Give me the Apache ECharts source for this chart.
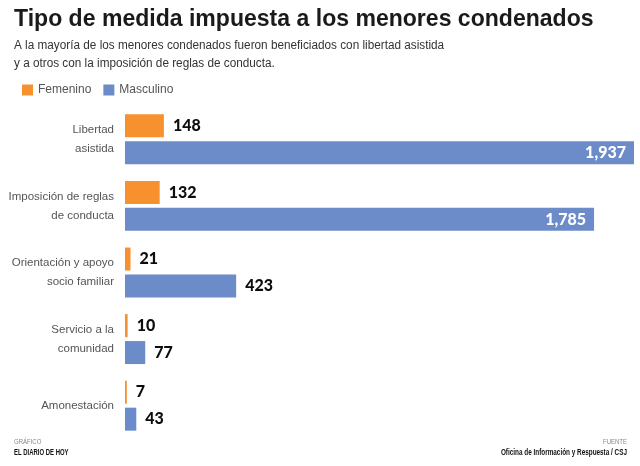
<html>
    <head>
        <meta charset="utf-8">
        <script src="https://cdn.jsdelivr.net/npm/echarts@6/dist/echarts.min.js"></script>
    </head>
    <body style="margin:0;background:#fff;">
        <div id="chart" style="height: 466px; width: 640px;"></div>
    </body>
    <script type="text/javascript">
        // datos
        var categorias = ['Libertad\nasistida', 'Imposición de reglas\nde conducta', 'Orientación y apoyo\nsocio familiar', 'Servicio a la\ncomunidad', 'Amonestación'];
        var femenino = [148, 132, 21, 10, 7];
        var masculino = [1937, 1785, 423, 77, 43];

        var naranja = '#F7912F';
        var azul = '#6B8CC8';
        var fuente = '"Liberation Sans", Arial, sans-serif';

        function fmt(v) {
            return v.toLocaleString('en-US');
        }

        // barras largas llevan la etiqueta dentro
        function puntos(arr) {
            return arr.map(function (v) {
                if (v > 1000) {
                    return {
                        value: v,
                        label: { position: 'insideRight', color: '#fff', distance: 8 }
                    };
                }
                return v;
            });
        }

        var myChart = echarts.init(document.getElementById('chart'));

        var etiqueta = {
            show: true, position: 'right', distance: 9,
            fontSize: 16, fontWeight: 900, color: '#0d0d0d', fontFamily: 'Lato, sans-serif',
            formatter: function (p) { return fmt(p.value); }
        };

        var options = {
            animation: false,
            legend: {
                left: 22,
                top: 84,
                padding: 0,
                icon: 'rect',
                itemWidth: 11,
                itemHeight: 11,
                itemGap: 12,
                textStyle: { fontSize: 12, color: '#555', fontFamily: fuente }
            },
            grid: { left: 125, right: 6, top: 106, bottom: 27, containLabel: false, outerBoundsMode: 'none' },
            xAxis: {
                type: 'value',
                min: 0,
                max: 1937,
                show: false,
                splitLine: { show: false }
            },
            yAxis: {
                type: 'category',
                inverse: true,
                data: categorias,
                axisLine: { show: false },
                axisTick: { show: false },
                axisLabel: {
                    margin: 11,
                    fontSize: 11.5,
                    lineHeight: 19,
                    color: '#555',
                    fontFamily: fuente
                }
            },
            series: [{
                name: 'Femenino',
                type: 'bar',
                data: femenino,
                barWidth: 23,
                barGap: '17%',
                itemStyle: { color: naranja },
                label: etiqueta
            }, {
                name: 'Masculino',
                type: 'bar',
                data: puntos(masculino),
                barWidth: 23,
                itemStyle: { color: azul },
                label: etiqueta
            }],
            graphic: [
                { type: 'text', x: 14, y: 7, scaleX: 0.96,
                  style: { text: 'Tipo de medida impuesta a los menores condenados', font: 'bold 24px ' + fuente, fill: '#1a1a1a' } },
                { type: 'text', x: 14, y: 37, scaleX: 0.98,
                  style: { text: 'A la mayoría de los menores condenados fueron beneficiados con libertad asistida\ny a otros con la imposición de reglas de conducta.', font: '12px ' + fuente, fill: '#333', lineHeight: 17.5 } },
                { type: 'text', x: 14, y: 438, scaleX: 0.75,
                  style: { text: 'GRÁFICO', font: '8px ' + fuente, fill: '#888' } },
                { type: 'text', x: 14, y: 448, scaleX: 0.7,
                  style: { text: 'EL DIARIO DE HOY', font: 'bold 8.5px ' + fuente, fill: '#111' } },
                { type: 'text', x: 627, y: 438, scaleX: 0.75,
                  style: { text: 'FUENTE', font: '8px ' + fuente, fill: '#888', align: 'right' } },
                { type: 'text', x: 627, y: 448, scaleX: 0.75,
                  style: { text: 'Oficina de Información y Respuesta / CSJ', font: 'bold 8.5px ' + fuente, fill: '#111', align: 'right' } }
            ]
        };

        myChart.setOption(options);
    </script>
</html>
